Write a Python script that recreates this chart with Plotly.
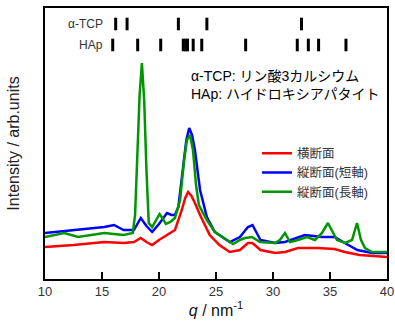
import plotly.graph_objects as go

# ---- data (q in nm^-1, intensity in arbitrary units) ----
q_red = [10.0, 12.5, 15.2, 16.9, 17.8, 18.4, 18.9, 19.4, 20.0, 20.7, 21.4, 22.0, 22.3, 22.55,
         22.85, 23.15, 23.6, 24.45, 25.3, 26.2, 27.1, 27.8, 28.2, 28.9, 30.2, 31.05, 32.2,
         33.9, 35.4, 36.3, 37.6, 40.0]
i_red = [32, 34, 37, 36, 37, 41, 37, 34, 39, 44, 49, 69, 81, 87,
         83, 76, 64, 44, 34, 27, 29, 36, 36, 29, 26, 27, 31,
         31, 30, 27, 24, 22]

q_blue = [10.0, 12.5, 15.2, 16.05, 16.9, 17.8, 18.4, 18.9, 19.4, 20.0, 20.7, 21.1, 21.4, 21.7,
          22.1, 22.4, 22.65, 22.9, 23.15, 23.6, 24.2, 24.9, 26.2, 27.1, 27.8, 28.2, 28.9,
          30.2, 31.05, 32.8, 34.3, 35.4, 36.3, 37.4, 38.7, 40.0]
i_blue = [46, 49, 52, 54, 49, 49, 61, 53, 47, 55, 66, 64, 64, 72,
          109, 139, 151, 144, 129, 89, 62, 47, 37, 42, 52, 54, 39,
          36, 37, 44, 42, 42, 36, 29, 26, 26]

q_green = [10.0, 11.7, 12.9, 15.2, 16.9, 17.5, 17.7, 17.9, 18.1, 18.3, 18.5, 18.7, 18.9, 19.1,
           19.4, 19.75, 20.05, 20.35, 20.6, 21.0, 21.4, 21.85, 22.2, 22.45, 22.72, 22.98,
           23.25, 23.5, 23.86, 24.2, 24.9, 25.96, 26.5, 27.1, 27.54, 28.16, 28.86, 30.18,
           30.6, 31.05, 31.49, 32.19, 32.98, 33.68, 34.3, 34.82, 35.26, 35.61, 36.32, 36.93,
           37.37, 37.72, 38.07, 38.68, 40.0]
i_green = [42, 46, 42, 46, 44, 46, 46, 64, 119, 184, 216, 179, 109, 56,
           52, 59, 65, 60, 55, 57, 61, 79, 119, 139, 144, 129,
           94, 74, 67, 59, 47, 39, 35, 39, 41, 42, 37, 36,
           39, 46, 37, 39, 42, 39, 46, 56, 47, 39, 36, 39,
           56, 39, 31, 27, 27]

tcp_peaks = [16.2, 17.2, 21.7, 24.2, 32.5]
hap_peaks = [15.94, 18.13, 20.15, 22.13, 22.34, 22.5, 23.0, 23.75, 27.6, 32.13, 33.1, 34.0, 36.4]
tcp_row = 255
hap_row = 234

series = [
    ("横断面", q_red, i_red, "rgb(255,0,0)"),
    ("縦断面(短軸)", q_blue, i_blue, "rgb(0,0,255)"),
    ("縦断面(長軸)", q_green, i_green, "rgb(0,150,0)"),
]

fig = go.Figure()
for name, q, inten, col in series:
    fig.add_trace(go.Scatter(x=q, y=inten, mode="lines", name=name,
                             line=dict(color=col, width=2.5)))

for peaks, row in [(tcp_peaks, tcp_row), (hap_peaks, hap_row)]:
    fig.add_trace(go.Scatter(x=peaks, y=[row] * len(peaks), mode="markers",
                             showlegend=False, hoverinfo="skip",
                             marker=dict(symbol="line-ns", size=9,
                                         line=dict(color="black", width=3))))

fig.add_annotation(x=15.3, y=tcp_row, text="α-TCP", showarrow=False, xanchor="right",
                   font=dict(size=12, color="#333"))
fig.add_annotation(x=15.3, y=hap_row, text="HAp", showarrow=False, xanchor="right",
                   font=dict(size=12, color="#333"))
fig.add_annotation(x=0.42, y=0.716, xref="paper", yref="paper", xanchor="left", yanchor="middle",
                   text="α-TCP: リン酸3カルシウム<br>HAp: ハイドロキシアパタイト",
                   showarrow=False, align="left",
                   font=dict(size=14, color="black"))

fig.update_layout(
    width=395, height=322,
    margin=dict(l=45, r=8, t=8, b=43),
    paper_bgcolor="white", plot_bgcolor="white",
    font=dict(family="Liberation Sans, Noto Sans CJK JP", size=12, color="#333"),
    legend=dict(x=0.62, y=0.518, xanchor="left", yanchor="top", bgcolor="rgba(0,0,0,0)",
                font=dict(size=12.5, color="#333"),
                itemwidth=30),
    xaxis=dict(range=[10, 40], tickvals=[10, 15, 20, 25, 30, 35, 40],
               ticks="inside", ticklen=7, tickwidth=1.5, tickcolor="black",
               showline=True, linecolor="black", linewidth=1.5, mirror=True,
               showgrid=False, zeroline=False, automargin=False,
               tickfont=dict(size=13, color="#333"),
               title=dict(text="<i>q</i> / nm<sup>-1</sup>", standoff=5,
                          font=dict(size=16, color="#111"))),
    yaxis=dict(range=[0, 271], showticklabels=False, ticks="",
               showline=True, linecolor="black", linewidth=1.5, mirror=True,
               showgrid=False, zeroline=False, automargin=False,
               title=dict(text="Intensity / arb.units", standoff=20,
                          font=dict(size=16, color="#222"))),
)

fig.write_html("out.html", config={"displayModeBar": False},
               post_script="document.body.style.margin='0px';")
